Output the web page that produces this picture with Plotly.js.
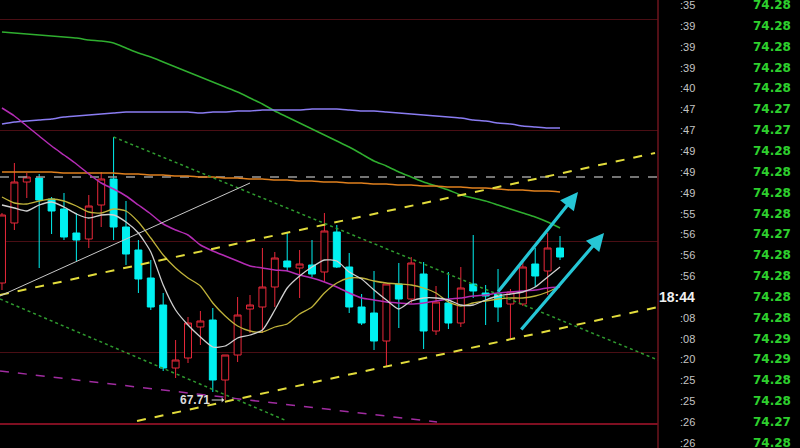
<!DOCTYPE html>
<html>
<head>
<meta charset="utf-8">
<script src="https://cdn.plot.ly/plotly-3.0.1.min.js"></script>
<style>
  html, body { margin: 0; padding: 0; background: #000; }
  #chart { width: 800px; height: 448px; }
</style>
</head>
<body>
<div id="chart"></div>
<script>
// ---- candle data (oldest to newest) ----
const opens  = [73.56, 76.56, 78.61, 78.81, 77.76, 77.26, 76.06, 75.76, 77.46, 78.76, 76.36, 75.21, 73.81, 72.46, 69.31, 69.81, 71.36, 71.71, 68.71, 69.96, 72.26, 72.36, 73.36, 74.66, 74.31, 74.46, 74.11, 76.11, 74.36, 72.36, 72.06, 70.66, 73.51, 72.76, 74.01, 71.16, 72.56, 71.56, 73.51, 73.06, 73.01, 72.51, 72.51, 74.51, 74.16, 75.31];
const highs  = [77.06, 79.56, 79.06, 79.01, 77.86, 78.06, 77.06, 77.96, 79.11, 80.86, 77.66, 75.71, 74.71, 73.06, 70.71, 71.86, 72.16, 72.31, 69.96, 72.86, 72.96, 75.31, 75.11, 76.11, 75.21, 75.71, 77.06, 76.46, 75.06, 73.01, 74.16, 73.51, 74.56, 74.86, 74.61, 73.41, 74.11, 74.36, 75.96, 73.46, 74.26, 73.26, 74.71, 75.31, 76.06, 75.91];
const lows   = [73.21, 76.21, 77.81, 74.31, 76.01, 75.71, 74.66, 75.31, 76.36, 75.71, 74.46, 73.06, 72.21, 69.16, 68.81, 69.56, 70.46, 68.11, 67.71, 69.61, 71.06, 71.06, 72.36, 74.16, 72.81, 73.86, 73.61, 74.31, 72.06, 71.46, 70.21, 69.41, 71.31, 72.56, 70.26, 70.96, 71.26, 71.36, 72.81, 71.46, 71.61, 70.76, 72.41, 73.36, 72.96, 74.71];
const closes = [76.96, 78.61, 78.86, 77.71, 77.16, 75.86, 75.71, 77.41, 78.76, 76.36, 75.01, 73.76, 72.36, 69.31, 69.71, 71.56, 71.66, 68.71, 69.96, 71.96, 72.46, 73.36, 74.81, 74.36, 74.51, 74.01, 76.16, 74.36, 72.36, 71.56, 70.66, 73.51, 72.76, 74.56, 71.16, 72.61, 71.56, 73.31, 73.16, 72.91, 72.36, 73.11, 74.36, 73.91, 75.31, 74.86];

// ---- moving averages, one value per candle ----
const maWhite   = [77.46, 77.31, 77.16, 77.46, 77.61, 77.36, 77.01, 76.81, 76.96, 76.96, 76.61, 76.06, 75.11, 73.46, 72.21, 71.46, 70.86, 70.36, 70.41, 70.81, 70.96, 71.21, 72.21, 73.31, 73.91, 74.36, 74.71, 74.66, 74.11, 73.76, 73.21, 72.71, 72.26, 72.66, 72.81, 72.81, 72.71, 72.46, 72.46, 72.71, 72.91, 73.01, 73.11, 73.36, 73.86, 74.36];
const maYellow  = [77.86, 77.56, 77.51, 77.66, 77.76, 77.66, 77.41, 77.11, 77.06, 77.26, 77.16, 76.61, 75.81, 74.96, 74.31, 73.81, 73.41, 72.56, 71.91, 71.41, 71.16, 71.11, 71.36, 71.51, 72.01, 72.36, 73.06, 73.56, 73.81, 73.81, 73.66, 73.56, 73.51, 73.46, 73.31, 73.06, 72.61, 72.41, 72.56, 72.66, 72.76, 72.81, 72.81, 72.91, 73.11, 73.41];
const maMagenta = [82.31, 81.91, 81.41, 80.91, 80.41, 79.96, 79.51, 79.01, 78.56, 78.26, 77.91, 77.46, 77.01, 76.51, 76.21, 75.96, 75.46, 75.16, 74.91, 74.66, 74.41, 74.31, 74.21, 74.16, 73.96, 73.81, 73.61, 73.36, 73.06, 72.81, 72.71, 72.61, 72.56, 72.51, 72.56, 72.66, 72.76, 72.81, 72.91, 72.96, 73.06, 73.11, 73.16, 73.21, 73.31, 73.36];
const maGreen   = [86.11, 86.06, 86.01, 85.96, 85.91, 85.86, 85.81, 85.71, 85.66, 85.56, 85.31, 85.06, 84.86, 84.61, 84.36, 84.11, 83.86, 83.61, 83.36, 83.11, 82.81, 82.51, 82.16, 81.86, 81.56, 81.26, 80.96, 80.66, 80.36, 80.01, 79.66, 79.41, 79.11, 78.86, 78.61, 78.41, 78.21, 77.96, 77.81, 77.66, 77.46, 77.26, 77.06, 76.86, 76.61, 76.31];
const maBlue    = [81.51, 81.61, 81.66, 81.71, 81.76, 81.86, 81.91, 81.96, 82.01, 82.06, 82.11, 82.11, 82.11, 82.11, 82.11, 82.11, 82.06, 82.11, 82.11, 82.16, 82.16, 82.21, 82.21, 82.21, 82.21, 82.26, 82.26, 82.26, 82.21, 82.16, 82.16, 82.11, 82.06, 82.01, 81.96, 81.91, 81.86, 81.81, 81.71, 81.66, 81.56, 81.51, 81.41, 81.36, 81.31, 81.31];
const maOrange  = [79.11, 79.11, 79.11, 79.11, 79.11, 79.06, 79.06, 79.06, 79.06, 79.06, 79.01, 79.01, 78.96, 78.96, 78.91, 78.91, 78.86, 78.86, 78.81, 78.81, 78.76, 78.76, 78.71, 78.71, 78.66, 78.66, 78.61, 78.61, 78.56, 78.56, 78.51, 78.51, 78.46, 78.46, 78.41, 78.41, 78.36, 78.36, 78.31, 78.31, 78.26, 78.21, 78.21, 78.16, 78.16, 78.11];

// ---- hand-drawn studies: [barIndex, price] endpoints ----
const channelUpper = [[-0.16, 72.96], [52.66, 80.06]];
const channelLower = [[10.89, 66.66], [52.90, 72.36]];
const fallLineHigh = [[9.00, 80.86], [52.90, 69.71]];
const fallLineLow  = [[-0.16, 72.76], [22.98, 66.66]];
const supportPurple = [[-0.16, 69.16], [35.08, 66.61]];
const riseLineGray = [[-0.16, 72.91], [20.00, 78.56]];
const refPrice = 78.86;
const arrowOne = [[39.92, 73.06], [46.45, 78.11]];
const arrowTwo = [[41.77, 71.16], [48.55, 76.06]];
const lowMark = {bar: 18, price: 67.71, text: '67.71'};

// grid levels of the price panel
const gridPrices = [70.11, 75.66, 81.21, 86.76];

// ---- time & sales column ----
const tapeTimes  = [':35', ':39', ':39', ':39', ':40', ':47', ':47', ':49', ':49', ':49', ':55', ':56', ':56', ':56', '18:44', ':08', ':08', ':20', ':25', ':25', ':26', ':26'];
const tapePrices = ['74.28', '74.28', '74.28', '74.28', '74.28', '74.27', '74.27', '74.28', '74.28', '74.28', '74.28', '74.27', '74.28', '74.28', '74.28', '74.28', '74.29', '74.29', '74.28', '74.28', '74.27', '74.28'];

const bars = opens.map((_, i) => i);

function maTrace(values, color, width) {
  return {
    type: 'scatter', mode: 'lines', x: bars, y: values,
    line: {color: color, width: width, shape: 'spline', smoothing: 0.6},
    hoverinfo: 'skip'
  };
}
function segTrace(pts, color, width, dash) {
  return {
    type: 'scatter', mode: 'lines',
    x: pts.map(p => p[0]), y: pts.map(p => p[1]),
    line: {color: color, width: width, dash: dash},
    hoverinfo: 'skip'
  };
}

const xRange = [-0.16, 52.9];
const traces = [
  segTrace([[xRange[0], refPrice], [xRange[1], refPrice]], '#9a9a9a', 1.5, 'dash'),
  {
    type: 'candlestick', x: bars, open: opens, high: highs, low: lows, close: closes,
    increasing: {line: {color: '#e8283a', width: 1}, fillcolor: '#000000'},
    decreasing: {line: {color: '#00f0f0', width: 1}, fillcolor: '#00f0f0'},
    whiskerwidth: 0, hoverinfo: 'skip'
  },
  maTrace(maGreen, '#2fae2f', 1.5),
  maTrace(maBlue, '#8a7cf2', 1.5),
  maTrace(maOrange, '#e0801e', 1.5),
  maTrace(maMagenta, '#b42cb4', 1.5),
  maTrace(maYellow, '#bfb23a', 1.3),
  maTrace(maWhite, '#d0d0d0', 1.3),
  segTrace(channelUpper, '#e2dc3c', 2, 'dash'),
  segTrace(channelLower, '#e2dc3c', 2, 'dash'),
  segTrace(fallLineHigh, '#2f9a2f', 1.5, 'dot'),
  segTrace(fallLineLow, '#2f9a2f', 1.5, 'dot'),
  segTrace(supportPurple, '#a02ca0', 1.5, 'dash'),
  segTrace(riseLineGray, '#c8c8c8', 1, 'solid')
];

const annotations = [];
[arrowOne, arrowTwo].forEach(a => {
  annotations.push({
    x: a[1][0], y: a[1][1], ax: a[0][0], ay: a[0][1],
    xref: 'x', yref: 'y', axref: 'x', ayref: 'y',
    text: '', showarrow: true, arrowhead: 2, arrowsize: 1.1,
    arrowwidth: 3.2, arrowcolor: '#26c6d6'
  });
});
annotations.push({
  x: lowMark.bar, y: lowMark.price, xref: 'x', yref: 'y',
  text: '<b>' + lowMark.text + '</b>', showarrow: true,
  ax: -30, ay: 0, arrowhead: 1, arrowsize: 0.7, arrowwidth: 1.2,
  arrowcolor: '#d8d8d8', standoff: 1,
  font: {family: 'Liberation Sans, Arial, sans-serif', size: 12, color: '#dcdcdc'}
});

const rowStep = 20.85;
tapeTimes.forEach((t, k) => {
  const yp = 1 - (5 + rowStep * k) / 448;
  const big = t.length > 3;
  annotations.push({
    xref: 'paper', yref: 'paper', x: 697 / 800, y: yp,
    xanchor: 'right', yanchor: 'middle', showarrow: false,
    text: big ? '<b>' + t + '</b>' : t,
    font: {family: 'Liberation Sans, Arial, sans-serif', size: big ? 14 : 11, color: big ? '#f0f0f0' : '#c4c4c4'}
  });
  annotations.push({
    xref: 'paper', yref: 'paper', x: 793 / 800, y: yp,
    xanchor: 'right', yanchor: 'middle', showarrow: false,
    text: '<b>' + tapePrices[k] + '</b>',
    font: {family: 'DejaVu Sans, sans-serif', size: 12, color: '#2ed02e'}
  });
});

const plotRight = 658 / 800;
const layout = {
  width: 800, height: 448,
  margin: {l: 0, r: 0, t: 0, b: 0, pad: 0},
  paper_bgcolor: '#000000', plot_bgcolor: '#000000',
  showlegend: false, boxgap: 0.2,
  xaxis: {
    domain: [0, plotRight], range: xRange, showgrid: false, zeroline: false,
    showticklabels: false, ticks: '', showline: false,
    rangeslider: {visible: false}, fixedrange: true
  },
  yaxis: {
    range: [65.31, 87.71], tickvals: gridPrices, showticklabels: false, ticks: '',
    showgrid: true, gridcolor: '#4a0e14', gridwidth: 1,
    zeroline: false, showline: false, fixedrange: true
  },
  shapes: [
    {type: 'line', xref: 'paper', yref: 'paper', x0: 0, x1: plotRight,
     y0: 1 - 424 / 448, y1: 1 - 424 / 448, line: {color: '#a8142c', width: 1.5}},
    {type: 'line', xref: 'paper', yref: 'paper', x0: plotRight, x1: plotRight,
     y0: 0, y1: 1, line: {color: '#6e141e', width: 1.5}}
  ],
  annotations: annotations
};

Plotly.newPlot('chart', traces, layout, {staticPlot: true, displayModeBar: false});
</script>
</body>
</html>
